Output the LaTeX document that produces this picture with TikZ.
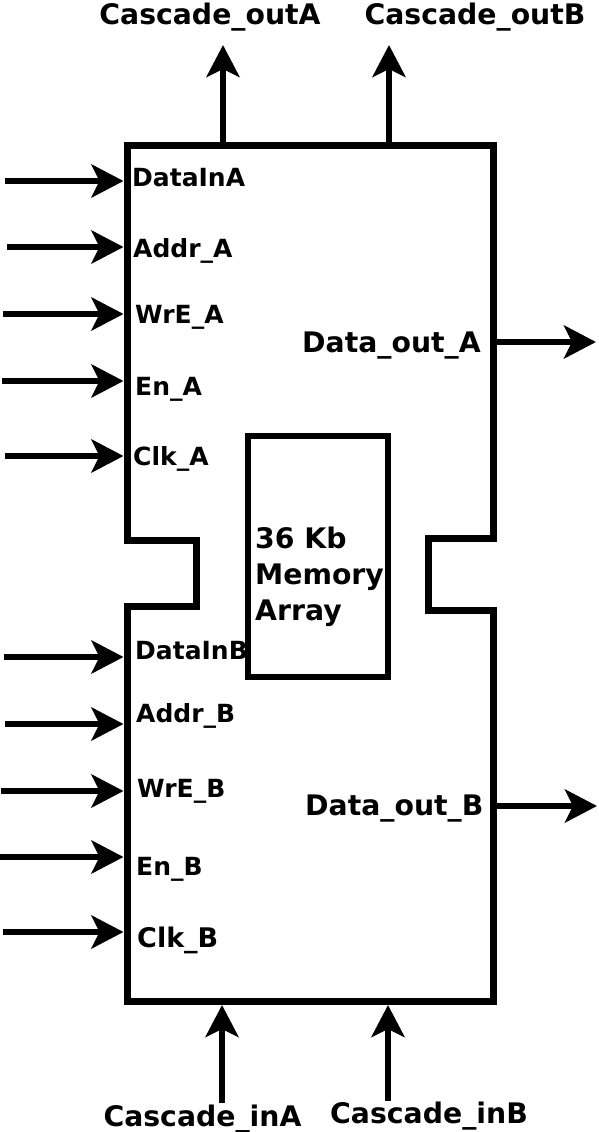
\documentclass[tikz,border=0pt]{standalone}
\usepackage{fontspec}
\setmainfont{DejaVu Sans}
\usetikzlibrary{arrows.meta}
\tikzset{
  sig/.style={line width=6.5pt, -{Stealth[length=32pt,width=33pt,inset=8pt]}},
  outline/.style={line width=7pt, line join=miter},
  portlbl/.style={font=\bfseries\fontsize{25}{30}\selectfont, inner sep=0pt, anchor=base west},
  biglbl/.style={font=\bfseries\fontsize{28.3}{34}\selectfont, inner sep=0pt},
}
\begin{document}
\begin{tikzpicture}[x=1pt,y=-1pt]
\useasboundingbox (0,0) rectangle (598,1132);
% block outline with notches
\draw[outline] (127,145) -- (493,145) -- (493,538) -- (428,538) -- (428,610) -- (493,610)
  -- (493,1001) -- (127,1001) -- (127,606) -- (196,606) -- (196,540) -- (127,540) -- cycle;
% memory array
\draw[line width=6.5pt] (248,436) rectangle (388,677);
\node[biglbl, anchor=north west, align=left, font=\bfseries\fontsize{28.3}{36}\selectfont] (mem) at (255,527) {36 Kb\\Memory\\Array};

% port coordinates on the left edge
\foreach \n/\sx/\y in {DA/5/181, AA/7/247, WA/3/314, EA/2/381, CA/5/456,
                       DB/4/657, AB/5/724, WB/1/791, EB/0/857, CB/3/932}{
  \coordinate (src\n) at (\sx,\y);
  \coordinate (port\n) at (123.5,\y);
}
\foreach \n in {DA,AA,WA,EA,CA,DB,AB,WB,EB,CB}{
  \draw[sig] (src\n) -- (port\n);
}
% left labels
\node[portlbl] (lDA) at (132,186) {DataInA};
\node[portlbl] (lAA) at (133,257) {Addr\_A};
\node[portlbl] (lWA) at (135,323) {WrE\_A};
\node[portlbl] (lEA) at (135,395) {En\_A};
\node[portlbl] (lCA) at (133,465) {Clk\_A};
\node[portlbl] (lDB) at (135,659) {DataInB};
\node[portlbl] (lAB) at (136,722) {Addr\_B};
\node[portlbl] (lWB) at (137,797) {WrE\_B};
\node[portlbl] (lEB) at (136,875) {En\_B};
\node[portlbl, font=\bfseries\fontsize{27}{30}\selectfont] (lCB) at (137,947) {Clk\_B};

% right outputs
\coordinate (oA0) at (493,342); \coordinate (oA1) at (596,342);
\coordinate (oB0) at (493,806); \coordinate (oB1) at (597,806);
\draw[sig] (oA0) -- (oA1);
\draw[sig] (oB0) -- (oB1);
\node[biglbl, anchor=base west] (lOA) at (302,352) {Data\_out\_A};
\node[biglbl, anchor=base west] (lOB) at (305,815) {Data\_out\_B};

% cascade outputs (top)
\coordinate (cA0) at (223,145); \coordinate (cA1) at (223,45);
\coordinate (cB0) at (389,145); \coordinate (cB1) at (389,45);
\draw[sig] (cA0) -- (cA1);
\draw[sig] (cB0) -- (cB1);
\node[biglbl, anchor=base] (lCOA) at (210,25) {Cascade\_outA};
\node[biglbl, anchor=base] (lCOB) at (475,25) {Cascade\_outB};

% cascade inputs (bottom)
\coordinate (iA0) at (222,1103); \coordinate (iA1) at (222,1005);
\coordinate (iB0) at (388,1101); \coordinate (iB1) at (388,1005);
\draw[sig] (iA0) -- (iA1);
\draw[sig] (iB0) -- (iB1);
\node[biglbl, anchor=base] (lCIA) at (202.5,1126) {Cascade\_inA};
\node[biglbl, anchor=base] (lCIB) at (429,1123) {Cascade\_inB};
\end{tikzpicture}
\end{document}
